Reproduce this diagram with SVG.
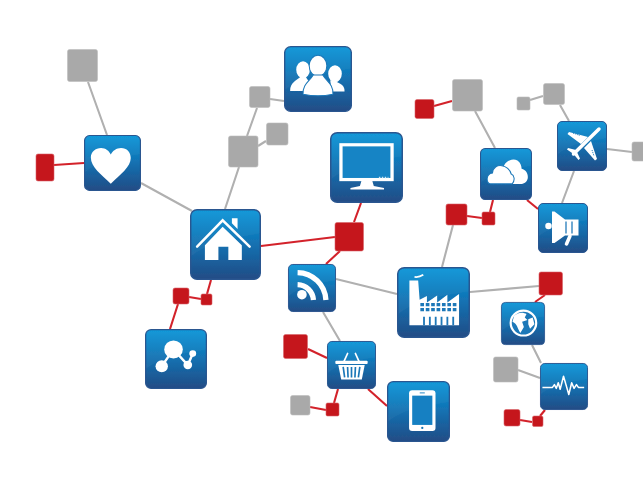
<svg xmlns="http://www.w3.org/2000/svg" width="643" height="482" viewBox="0 0 643 482">
<style>
.g{stroke:#b0b0b0;stroke-width:2.1;fill:none}
.r{stroke:#d3222b;stroke-width:2.1;fill:none}
.sg{fill:#a9a9a9;stroke:#bdbdbd;stroke-width:.6}
.sr{fill:#c5141a;stroke:#d8666a;stroke-width:.6}
.w{fill:#fff}
.l{fill:none;stroke:#fff}
.b{fill:#1473b3}
</style>
<defs>
<filter id="soft" x="-2%" y="-2%" width="104%" height="104%"><feGaussianBlur stdDeviation="0.6"/></filter>
<linearGradient id="tg" x1="0" y1="0" x2="0" y2="1"><stop offset="0" stop-color="#0895d8"/><stop offset=".45" stop-color="#1274b5"/><stop offset="1" stop-color="#224c85"/></linearGradient>
<g id="tile"><rect x="1" y="1" width="98" height="98" rx="9" fill="url(#tg)" stroke="#2a5690" stroke-width="2"/><path d="M2 66C25 47 60 40 98 34V10Q98 2 90 2H10Q2 2 2 10Z" fill="#fff" opacity=".04"/></g>
<g id="i-heart"><path class="w" d="M47 87C30 70 12 57 12 40C12 30 20 23 30 23C38 23 44 28 47 35C50 28 57 23 65 23C75 23 82 30 82 41C82 57 64 70 47 87Z"/></g>
<g id="i-home"><path class="l" stroke-width="3.5" stroke-linecap="round" d="M10 53L46 16L84 53"/><path class="w" d="M59 13H67V28L59 20ZM46 25L73 51V72H54V53H40V72H21V51Z"/></g>
<g id="i-people"><ellipse class="w" cx="28" cy="36" rx="10" ry="13"/><path class="w" d="M9 68C9 56 18 52 24 47H32L38 56L33 68Z"/><ellipse class="w" cx="75" cy="42" rx="10" ry="13"/><path class="w" d="M68 52C78 54 90 58 89 69L70 69Z"/><ellipse class="w" cx="50" cy="30" rx="13" ry="16" stroke="#1a77b8" stroke-width="1.500"/><path class="w" d="M28 73C27 58 38 53 43 44H57C62 53 73 58 72 73Q50 78 28 73Z" stroke="#1a77b8" stroke-width="1.500"/></g>
<g id="i-monitor"><rect x="15" y="18" width="70" height="49" fill="#1684c5" stroke="#fff" stroke-width="4.500"/><path class="w" d="M43 69H58L60 76L74 79V81H28V79L41 76Z"/><path d="M67 64H80" stroke="#cfe6f4" stroke-width="2" stroke-dasharray="2 2"/></g>
<g id="i-cloud"><path class="w" d="M46 34C50 26 62 18 72 24C78 28 80 35 80 40C88 42 92 48 92 56C92 64 86 69 80 69H50Z"/><path class="w" d="M20 69C12 69 10 50 24 48C24 38 34 32 42 34C50 35 58 42 60 50C66 52 68 62 62 69Z" stroke="#1a77b8" stroke-width="2"/></g>
<g id="i-plane"><path class="l" stroke-width="7" stroke-linecap="round" d="M84 16L33 66"/><path class="w" d="M62 32L24 22L21 26L48 46ZM68 40L80 76L76 79L54 54ZM38 58L22 54L20 57L33 66L43 78L46 75Z"/><path d="M32 24L46 29M70 58L74 70" stroke="#1a77b8" stroke-width="2" stroke-dasharray="2 2"/></g>
<g id="i-mega"><path class="w" d="M28 17L33 17L54 33H81V65H54L33 80H28Z"/><circle class="w" cx="21" cy="46" r="6.500"/><path d="M56 37V61M68 37V61" stroke="#1a77b8" stroke-width="2.500"/><path class="l" stroke-width="7" stroke-linecap="round" d="M64 66L57 82"/></g>
<g id="i-factory"><path class="w" d="M17 82V19H29L31 46L41 41V50L55 40V50L69 39V50L85 38V82Z"/><path class="l" stroke-width="2.500" d="M24 14Q30 15 36 11"/><path d="M32 53H82M32 60H82" stroke="#1e78b8" stroke-width="4.500" stroke-dasharray="5 2.400"/><path d="M37 70V82M45 70V82M53 70V82M61 70V82M69 70V82M77 70V82" stroke="#1e78b8" stroke-width="2.500"/></g>
<g id="i-rss"><circle class="w" cx="29" cy="64" r="10"/><path class="l" stroke-width="11" d="M20 18A60 60 0 0 1 79 75M20 43A34 34 0 0 1 53 75"/></g>
<g id="i-mol"><path class="l" stroke-width="4" d="M27 62L46 34L69 60L77 41"/><circle class="w" cx="46" cy="34" r="15"/><circle class="w" cx="27" cy="62" r="10"/><circle class="w" cx="69" cy="60" r="7"/><circle class="w" cx="77" cy="41" r="5.500"/></g>
<g id="i-basket"><path class="l" stroke-width="3.500" stroke-linecap="round" d="M34 44L42 26M66 44L58 26"/><rect class="w" x="17" y="41" width="66" height="7" rx="2"/><path class="w" d="M23 50H77L71 80H29Z"/><path d="M33 54L36 76M42 54L43 76M50 54V76M58 54L57 76M67 54L64 76" stroke="#1a77b8" stroke-width="3.400"/></g>
<g id="i-phone"><rect class="w" x="35" y="15" width="42" height="67" rx="5"/><rect x="40" y="24" width="32" height="48" fill="#1680c2"/><circle class="b" cx="56" cy="77" r="1.800"/><path d="M52 19.500H60" stroke="#1680c2" stroke-width="1.500"/></g>
<g id="i-globe"><circle cx="51" cy="49" r="29" fill="#1a78b8" stroke="#fff" stroke-width="5"/><path class="w" d="M30 32C40 22 52 24 58 28L54 36L60 42L48 46L52 58L44 72C36 60 38 52 26 46ZM62 40L72 36L76 52L66 62L62 52Z"/></g>
<g id="i-pulse"><path class="l" stroke-width="3.200" stroke-linejoin="round" d="M5 52H26L30 46L34 54L38 42L42 56L49 28L60 67L66 42L71 54L76 46L80 52H92"/></g>
</defs>
<g filter="url(#soft)">
<g id="connectors">
<path class="g" d="M88 82L107 135M141 183L192 211M225 209L239 167M247 136L257 108M258 146L266 141M270 99L284 101M475 111L495 148M560 105L569 121M530 100L543 96M607 149L632 152M574 171L562 203M453 225L442 267M336 279L397 294M470 292L539 286M323 312L340 341M532 345L541 363M518 370L540 378"/>
<path class="r" d="M54 165L84 163M434 106L452 101M493 200L490 212M467 216L482 218M527 200L538 209M361 203L354 222M261 246L335 237M340 251L326 264M545 295L535 302M211 280L207 294M189 297L201 299M178 304L170 329M308 349L327 358M338 389L334 403M310 407L326 410M368 389L387 406M545 410L540 416M520 420L532 422"/>
</g>
<g id="g1"><rect class="sg" x="67.500" y="49.500" width="30" height="32" rx="2"/></g>
<g id="g2"><rect class="sg" x="249.500" y="86.500" width="20.500" height="21" rx="2"/></g>
<g id="g3"><rect class="sg" x="266.500" y="123" width="21.500" height="22" rx="2"/></g>
<g id="g4"><rect class="sg" x="228.500" y="136" width="29.500" height="31" rx="2"/></g>
<g id="g5"><rect class="sg" x="452.500" y="79.500" width="30" height="31.500" rx="2"/></g>
<g id="g6"><rect class="sg" x="543.500" y="83.500" width="21" height="21" rx="2"/></g>
<g id="g7"><rect class="sg" x="517" y="97" width="13" height="13" rx="1.500"/></g>
<g id="g8"><rect class="sg" x="632" y="142" width="14" height="19" rx="2"/></g>
<g id="g9"><rect class="sg" x="290.500" y="395.500" width="19.500" height="19.500" rx="2"/></g>
<g id="g10"><rect class="sg" x="493.500" y="357" width="24.500" height="25" rx="2"/></g>
<g id="r1"><rect class="sr" x="36" y="154" width="18" height="27" rx="2"/></g>
<g id="r2"><rect class="sr" x="415" y="99.500" width="19" height="19" rx="2"/></g>
<g id="r3"><rect class="sr" x="446" y="204" width="21" height="21" rx="2"/></g>
<g id="r4"><rect class="sr" x="482" y="212" width="13" height="13" rx="1.500"/></g>
<g id="r5"><rect class="sr" x="335" y="222.500" width="28.500" height="28.500" rx="2"/></g>
<g id="r6"><rect class="sr" x="539" y="272" width="23.500" height="23" rx="2"/></g>
<g id="r7"><rect class="sr" x="173" y="288" width="16" height="16" rx="2"/></g>
<g id="r8"><rect class="sr" x="201" y="294" width="11" height="11" rx="1.500"/></g>
<g id="r9"><rect class="sr" x="283.500" y="334.500" width="24" height="24" rx="2"/></g>
<g id="r10"><rect class="sr" x="326" y="403" width="13" height="13" rx="1.500"/></g>
<g id="r11"><rect class="sr" x="504" y="409.500" width="16" height="16.500" rx="2"/></g>
<g id="r12"><rect class="sr" x="532.500" y="416" width="10.500" height="10.500" rx="1.500"/></g>
<g id="heart" transform="translate(84 135) scale(.57 .56)"><use href="#tile"/><use href="#i-heart"/></g>
<g id="home" transform="translate(190 209) scale(.71 .71)"><use href="#tile"/><use href="#i-home"/></g>
<g id="people" transform="translate(284 46) scale(.68 .66)"><use href="#tile"/><use href="#i-people"/></g>
<g id="monitor" transform="translate(330 132) scale(.73 .71)"><use href="#tile"/><use href="#i-monitor"/></g>
<g id="cloud" transform="translate(480 148) scale(.52 .52)"><use href="#tile"/><use href="#i-cloud"/></g>
<g id="plane" transform="translate(557 121) scale(.5 .5)"><use href="#tile"/><use href="#i-plane"/></g>
<g id="megaphone" transform="translate(538 203) scale(.5 .5)"><use href="#tile"/><use href="#i-mega"/></g>
<g id="factory" transform="translate(397 267) scale(.73 .71)"><use href="#tile"/><use href="#i-factory"/></g>
<g id="rss" transform="translate(288 264) scale(.48 .48)"><use href="#tile"/><use href="#i-rss"/></g>
<g id="molecule" transform="translate(145 329) scale(.62 .6)"><use href="#tile"/><use href="#i-mol"/></g>
<g id="basket" transform="translate(327 341) scale(.49 .48)"><use href="#tile"/><use href="#i-basket"/></g>
<g id="phone" transform="translate(387 381) scale(.63 .61)"><use href="#tile"/><use href="#i-phone"/></g>
<g id="globe" transform="translate(501 302) scale(.44 .43)"><use href="#tile"/><use href="#i-globe"/></g>
<g id="pulse" transform="translate(540 363) scale(.48 .47)"><use href="#tile"/><use href="#i-pulse"/></g>
</g>
</svg>
